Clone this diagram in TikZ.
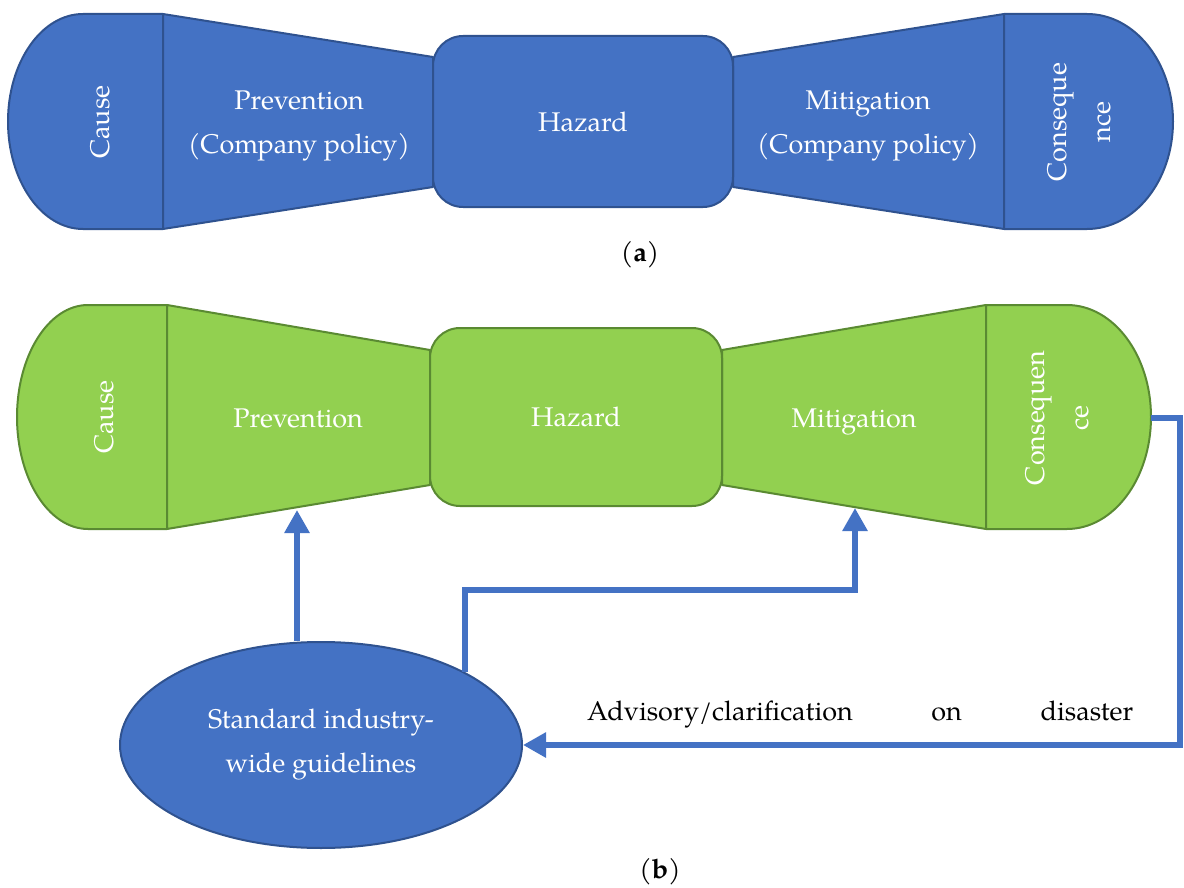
\documentclass[tikz,border=0pt]{standalone}
\usepackage{fontspec}
\setmainfont{texgyrepagella}[Extension=.otf, UprightFont=*-regular, BoldFont=*-bold]
\usepackage{xcolor}
\usetikzlibrary{arrows.meta, shapes.geometric}
\definecolor{bowBlue}{HTML}{4472C4}
\definecolor{bowBlueLine}{HTML}{2F528F}
\definecolor{bowGreen}{HTML}{92D050}
\definecolor{bowGreenLine}{HTML}{5A8A32}

\begin{document}
\begin{tikzpicture}[
    x=1pt, y=1pt,
    every node/.style={font=\fontsize{27}{44}\selectfont},
    partA/.style={fill=bowBlue, draw=bowBlueLine, line width=2pt, line join=round},
    partB/.style={fill=bowGreen, draw=bowGreenLine, line width=2pt, line join=round},
    label/.style={text=white, align=center, inner sep=0pt},
    hazbox/.style={rectangle, rounded corners=30pt, label},
    flow/.style={draw=bowBlue, line width=6pt, -{Triangle[width=24pt, length=23pt]}}
]
\useasboundingbox (0,0) rectangle (1184,-888);

% (a) bow-tie with company policy
\draw[partA] (163,-14) -- (83,-14) arc[start angle=90, end angle=270, x radius=75, y radius=107.5] -- (163,-229) -- cycle;
\draw[partA] (163,-14) -- (433,-57) -- (433,-187) -- (163,-229) -- cycle;
\draw[partA] (733,-57) -- (1004,-14) -- (1004,-229) -- (733,-187) -- cycle;
\draw[partA] (1004,-14) -- (1087,-14) arc[start angle=90, end angle=-90, x radius=86, y radius=107.5] -- (1004,-229) -- cycle;
\node[hazbox, partA, minimum width=300pt, minimum height=171pt] (hazA) at (583,-121.5) {Hazard};

\node[label, rotate=90] (causeA) at (100,-122) {Cause};
\node[label] (prevA) at (299,-126) {Prevention\\(Company policy)};
\node[label] (mitA) at (868,-126) {Mitigation\\(Company policy)};
\node[label, rotate=90] (consA) at (1079,-122) {Conseque\\nce};

\node (capA) at (640,-255) {(\textbf{a})};

% (b) bow-tie with industry guidelines
\draw[partB] (167,-305) -- (88,-305) arc[start angle=90, end angle=270, x radius=71, y radius=112] -- (167,-529) -- cycle;
\draw[partB] (167,-305) -- (430,-350) -- (430,-485) -- (167,-529) -- cycle;
\draw[partB] (722,-350) -- (986,-305) -- (986,-529) -- (722,-485) -- cycle;
\draw[partB] (986,-305) -- (1067,-305) arc[start angle=90, end angle=-90, x radius=84, y radius=112] -- (986,-529) -- cycle;
\node[hazbox, partB, minimum width=292pt, minimum height=178pt] (hazB) at (576,-417) {Hazard};

\node[label, rotate=90] (causeB) at (104,-417) {Cause};
\node[label, anchor=base] (prevB) at (298,-427) {Prevention};
\node[label, anchor=base] (mitB) at (854,-427) {Mitigation};
\node[label, rotate=90] (consB) at (1057,-418) {Consequen\\ce};

\node[ellipse, partA, label, minimum width=402pt, minimum height=206pt] (guide) at (321,-745) {Standard industry-\\wide guidelines};

\coordinate (prevEdge) at (297,-510);
\coordinate (mitEdge) at (855,-508);
\coordinate (consEdge) at (1151,-418);

\node[anchor=base west, inner sep=0pt] (advice) at (587,-720) {\hbox to 546pt{Advisory/clarification\hfill on\hfill disaster}};

% Arrows
\draw[flow] (guide.north -| prevEdge) -- (prevEdge);
\draw[flow] (guide.27) -- ++(0,82) -| (mitEdge);
\draw[flow] (consEdge) -- ++(29,0) |- (guide.east);

\node (capB) at (660,-872) {(\textbf{b})};
\end{tikzpicture}
\end{document}
